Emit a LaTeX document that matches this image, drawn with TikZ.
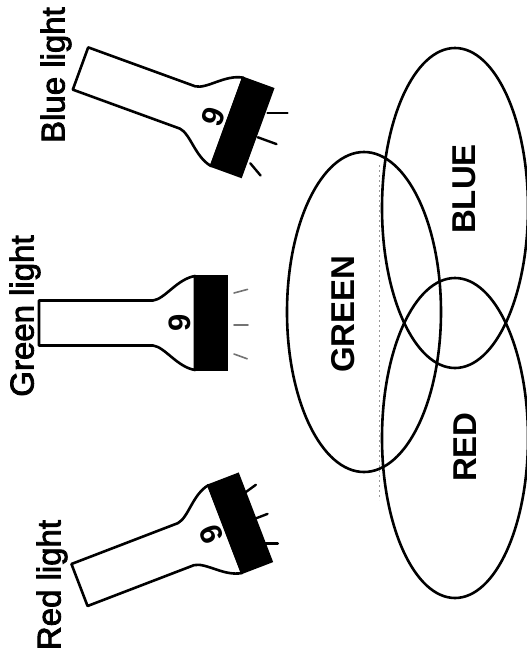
\documentclass[tikz,border=0pt]{standalone}
\usepackage{fontspec}
\setmainfont{Liberation Sans}
\newfontfamily\labelfont[FakeBold=2.5]{Liberation Sans}
\begin{document}
\begin{tikzpicture}[x=1pt,y=-1pt,
  outline/.style={line width=2.6pt, line join=round},
  ring/.style={line width=2.6pt},
  lightray/.style={line width=2.4pt, line cap=round},
  faintray/.style={line width=1.6pt, black!55, line cap=round},
  tag/.style={rotate=90, inner sep=0pt, font=\labelfont\fontsize{33}{33}\selectfont},
  colourtag/.style={rotate=90, inner sep=0pt, font=\bfseries\fontsize{33}{33}\selectfont},
  torch/.pic={
    % handle, flared head and black lens ring
    \draw[outline, fill=white] (0,-22.5) -- (114,-22.5)
      .. controls (126,-24) and (138,-44) .. (156,-47) -- (156,47)
      .. controls (138,44) and (126,24) .. (114,22.5) -- (0,22.5) -- cycle;
    \fill (155,-48) rectangle (189,48);
    \node[rotate=90, transform shape, inner sep=0pt,
          font=\bfseries\fontsize{31}{31}\selectfont] (-digit) at (141,0) {9};
  }
]
\useasboundingbox (0,0) rectangle (527,654);

% three overlapping light circles
\draw[ring] (455,208) ellipse [x radius=73, y radius=160];
\draw[ring] (364,312) ellipse [x radius=77, y radius=160];
\draw[ring] (455,438) ellipse [x radius=73, y radius=160];
\draw[black!40, line width=1pt, dash pattern=on 2pt off 3pt] (379,165) -- (379,500);

\node[colourtag] (bluename)  at (464,189) {BLUE};
\node[colourtag] (greenname) at (343,314) {GREEN};
\node[colourtag] (redname)   at (465,447) {RED};

% blue torch
\begin{scope}[shift={(80.5,68.5)}, rotate=-20]
  \pic[transform shape] (bluetorch) {torch};
  \draw[lightray] (191,-22) -- ++(-20:20);
  \draw[lightray] (190,4) -- ++(0:20);
  \draw[lightray] (192,31) -- ++(30:16);
\end{scope}

% green torch
\begin{scope}[shift={(39,323)}]
  \pic[transform shape] (greentorch) {torch};
  \draw[faintray] (195,-30) -- ++(-15:14);
  \draw[faintray] (195,2) -- ++(0:14);
  \draw[faintray] (195,31) -- ++(20:14);
\end{scope}

% red torch
\begin{scope}[shift={(79.5,585)}, rotate=21]
  \pic[transform shape] (redtorch) {torch};
  \draw[lightray] (188,-27) -- ++(-15:13);
  \draw[lightray] (186,1) -- ++(0:15);
  \draw[lightray] (186,27) -- ++(21:15);
\end{scope}

\node[tag] (bluelabel)  at (56,75)  {Blue light};
\node[tag] (greenlabel) at (25,316) {Green light};
\node[tag] (redlabel)   at (52,585) {Red light};
\end{tikzpicture}
\end{document}
